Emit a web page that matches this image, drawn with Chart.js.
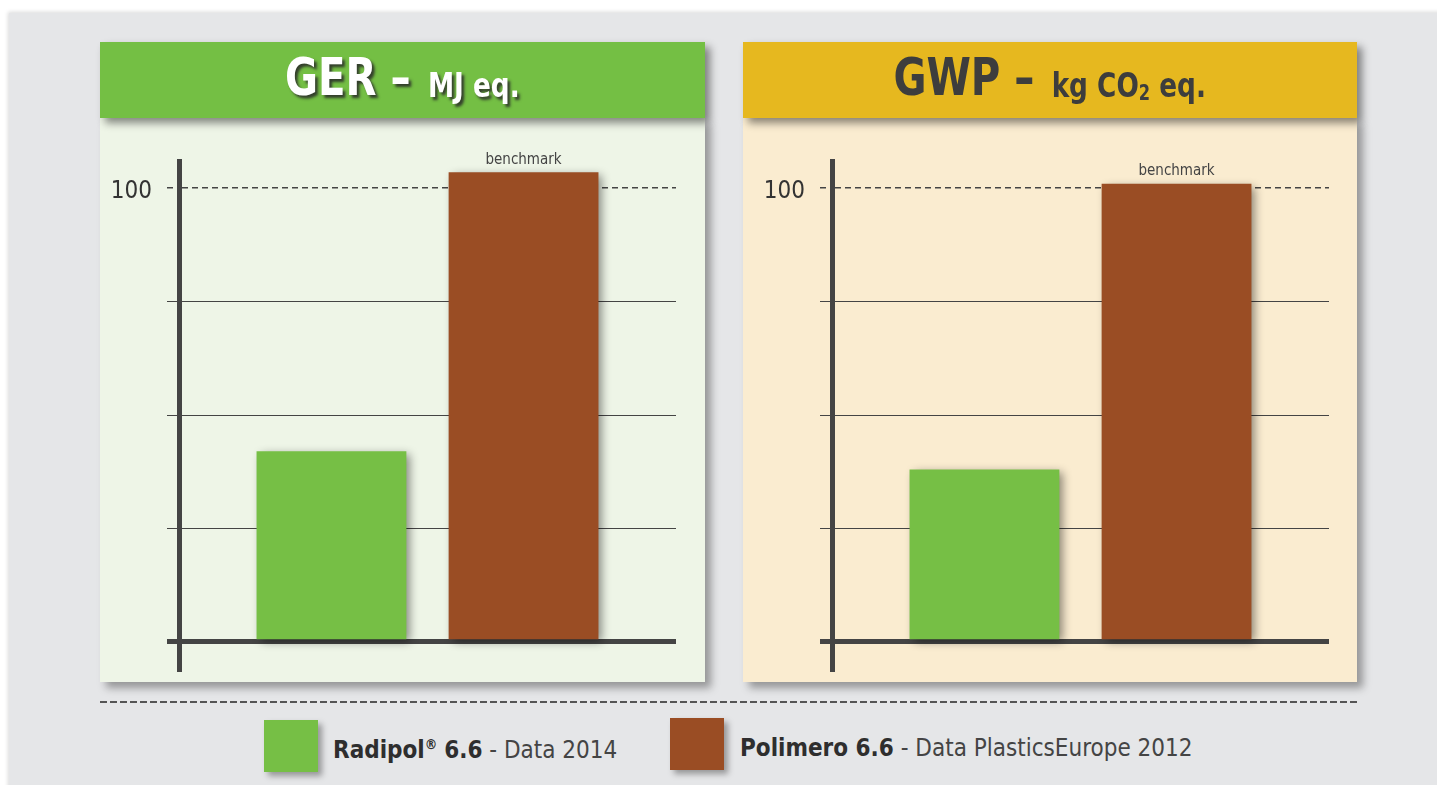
<!DOCTYPE html>
<html>
<head>
<meta charset="utf-8">
<script src="https://cdn.jsdelivr.net/npm/chart.js@4"></script>
<style>
  html, body { margin: 0; padding: 0; background: #fff; }
  body { width: 1437px; height: 785px; position: relative; overflow: hidden;
         font-family: "DejaVu Sans Condensed", "DejaVu Sans", sans-serif; font-stretch: condensed; }
  #frame { position: absolute; left: 9px; top: 13px; width: 1440px; height: 790px;
           background: #e5e6e8; box-shadow: -1px -1px 4px rgba(0,0,0,0.15); }
  .head { position: absolute; top: 42px; height: 76px; display: flex; align-items: center;
          justify-content: center; font-weight: bold; box-shadow: 5px 5px 8px rgba(0,0,0,0.45); z-index: 2; }
  .head .txt { display: inline-block; transform: scaleX(0.86); position: relative; top: -3px; white-space: nowrap; }
  .head .big { font-size: 52px; }
  .head .small { font-size: 34px; margin-left: 20px; position: relative; top: 2px; }
  .head sub { font-size: 21px; vertical-align: baseline; position: relative; top: 3px; }
  #h1 { left: 100px; width: 605px; background: #74bf44; color: #fff;
        text-shadow: 3px 3px 3px rgba(40,40,40,0.85); }
  #h2 { left: 743px; width: 614px; background: #e6b81f; color: #3d3d3d; }
  .panel { position: absolute; top: 118px; height: 564px; box-shadow: 6px 6px 8px rgba(0,0,0,0.35); }
  #p1 { left: 100px; width: 605px; background: #eef5e7; }
  #p2 { left: 743px; width: 614px; background: #faecd0; }
  canvas { position: absolute; left: 0; top: 0; }
  #rule { position: absolute; left: 100px; top: 701px; width: 1257px; height: 2px;
          background: repeating-linear-gradient(to right, #555 0 7px, transparent 7px 10px); }
  .key { position: absolute; width: 54px; height: 52px; box-shadow: 4px 4px 6px rgba(0,0,0,0.35); }
  .ktext { position: absolute; font-size: 24px; color: #444; white-space: nowrap; }
  .ktext b { color: #2e2e2e; }
  .ktext sup { font-size: 14px; font-weight: bold; color: #2e2e2e; }
</style>
</head>
<body>
<div id="frame"></div>
<div class="head" id="h1"><span class="txt"><span class="big">GER –</span><span class="small">MJ eq.</span></span></div>
<div class="head" id="h2"><span class="txt"><span class="big">GWP –</span><span class="small">kg CO<sub>2</sub> eq.</span></span></div>
<div class="panel" id="p1"><canvas id="c1" width="605" height="564"></canvas></div>
<div class="panel" id="p2"><canvas id="c2" width="614" height="564"></canvas></div>
<div id="rule"></div>
<div class="key" id="k1"></div><div class="ktext" id="t1"></div>
<div class="key" id="k2"></div><div class="ktext" id="t2"></div>
<script>
// data
const seriesNames = ['Radipol', 'Polimero 6.6'];
const seriesNotes = ['Data 2014', 'Data PlasticsEurope 2012'];
const seriesColors = ['#76bf45', '#9a4d24'];
const gerValues = [42, 103.5];
const gwpValues = [38, 101];
const yTicks = [0, 25, 50, 75, 100];
const yTickLabels = ['', '', '', '', '100'];
const benchmarkLabel = 'benchmark';

const dark = '#444';
const fontFamily = '"DejaVu Sans Condensed", "DejaVu Sans", sans-serif';

const barShadow = {
  id: 'barShadow',
  beforeDatasetsDraw(chart) {
    const ctx = chart.ctx;
    ctx.save();
    ctx.shadowColor = 'rgba(0,0,0,0.45)';
    ctx.shadowBlur = 9;
    ctx.shadowOffsetX = 4;
    ctx.shadowOffsetY = 3;
  },
  afterDatasetsDraw(chart) {
    const ctx = chart.ctx;
    ctx.restore();
    // label over the reference bar
    const bar = chart.getDatasetMeta(1).data[0];
    ctx.save();
    ctx.font = '15px ' + fontFamily;
    ctx.fillStyle = '#444';
    ctx.textAlign = 'center';
    ctx.textBaseline = 'bottom';
    ctx.fillText(benchmarkLabel, bar.x, bar.y - 5);
    ctx.restore();
  }
};

function makeChart(id, values, axisWidth, rightPad) {
  return new Chart(document.getElementById(id), {
    type: 'bar',
    data: {
      labels: [id],
      datasets: values.map((v, i) => ({
        label: seriesNames[i],
        data: [v],
        backgroundColor: seriesColors[i],
        categoryPercentage: 0.773,
        barPercentage: 0.78
      }))
    },
    options: {
      responsive: false,
      animation: false,
      devicePixelRatio: 1,
      layout: { padding: { left: 0, right: rightPad, top: 43, bottom: 13 } },
      plugins: { legend: { display: false }, tooltip: { enabled: false } },
      scales: {
        x: { display: false },
        y: {
          min: -6,
          max: 106,
          afterFit(s) { s.width = axisWidth; s.paddingTop = 0; s.paddingBottom = 0; },
          afterBuildTicks(s) { s.ticks = yTicks.map(v => ({ value: v })); },
          ticks: {
            padding: 15,
            labelOffset: 4,
            color: '#333',
            font: { family: fontFamily, size: 24 },
            callback: (v) => yTickLabels[yTicks.indexOf(v)]
          },
          grid: {
            color: dark,
            tickColor: dark,
            tickLength: 12,
            lineWidth: (c) => c.tick && c.tick.value === 0 ? 5 : (c.tick && c.tick.value === 100 ? 1.5 : 1),
            tickWidth: (c) => c.tick && c.tick.value === 0 ? 5 : (c.tick && c.tick.value === 100 ? 1.5 : 1),
            tickBorderDash: (c) => c.tick && c.tick.value === 100 ? [6, 4] : []
          },
          border: {
            display: true,
            color: dark,
            width: 5,
            dash: (c) => c.tick && c.tick.value === 100 ? [6, 4] : []
          }
        }
      }
    },
    plugins: [barShadow]
  });
}

makeChart('c1', gerValues, 79, 29);
makeChart('c2', gwpValues, 89, 28);

// legend
const keyPos = [[264, 720, 333], [670, 718, 740]];
keyPos.forEach((p, i) => {
  const k = document.getElementById('k' + (i + 1));
  k.style.left = p[0] + 'px'; k.style.top = p[1] + 'px';
  k.style.background = seriesColors[i];
  const t = document.getElementById('t' + (i + 1));
  t.style.left = p[2] + 'px'; t.style.top = (p[1] + 16) + 'px';
  t.innerHTML = i === 0
    ? '<b>' + seriesNames[0] + '</b><sup>®</sup> <b>6.6</b> - ' + seriesNotes[0]
    : '<b>' + seriesNames[1] + '</b> - ' + seriesNotes[1];
});
</script>
</body>
</html>
